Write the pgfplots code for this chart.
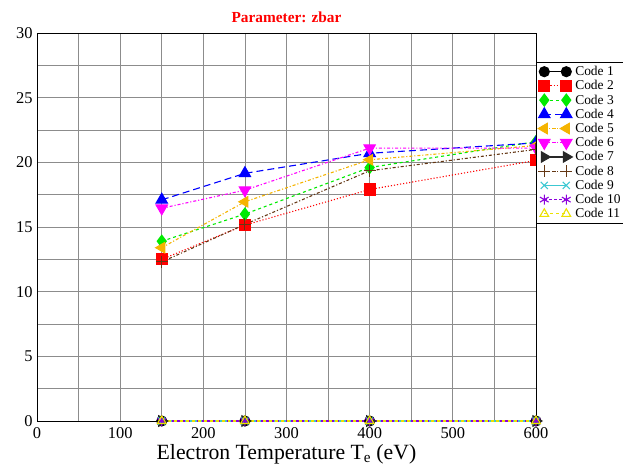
\documentclass[border=0pt]{standalone}
\usepackage{fontspec}
\setmainfont{Liberation Serif}
\usepackage{pgfplots}
\pgfplotsset{compat=1.18}
\definecolor{cgreen}{RGB}{0,235,0}
\definecolor{corange}{RGB}{245,180,0}
\definecolor{cmag}{RGB}{255,0,255}
\definecolor{cbrown}{RGB}{100,55,20}
\definecolor{ccyan}{RGB}{60,200,210}
\definecolor{cpurple}{RGB}{140,0,220}
\definecolor{cyellow}{RGB}{235,225,0}
\definecolor{cdgray}{RGB}{40,40,40}
\begin{document}
\begin{tikzpicture}[x=1bp,y=1bp]
\path[use as bounding box] (-37bp,-47bp) rectangle (586bp,421bp);
\begin{axis}[
  at={(0,0)}, anchor=south west,
  scale only axis, width=499bp, height=388bp,
  xmin=0,xmax=600,ymin=0,ymax=30,
  xtick={0,100,...,600}, minor xtick={50,150,...,550},
  ytick={0,5,...,30}, minor ytick={2.5,7.5,...,27.5},
  grid=both,
  grid style={gray!90, line width=0.7bp},
  minor grid style={gray!90, line width=0.7bp},
  major tick length=0pt, minor tick length=0pt,
  axis line style={black, line width=0.8bp},
  clip=false,
  /pgf/number format/assume math mode=true,
  tick label style={font=\fontsize{16.5}{18}\selectfont},
  xticklabel style={yshift=-3bp},
  yticklabel style={xshift=-1bp},
  xlabel={Electron Temperature T\textsubscript{e} (eV)},
  xlabel style={font=\fontsize{21.8}{23}\selectfont, yshift=1bp},
  title={\textbf{Parameter: zbar}},
  title style={font=\fontsize{15.4}{17}\selectfont, text=red, at={(0.5,1)}, anchor=south, yshift=1bp},
  legend cell align=left,
  legend style={at={(rel axis cs:1,1)}, anchor=north west, yshift=-29bp,
    draw=black, fill=white, line width=0.6bp,
    font=\fontsize{13.5}{14.5}\selectfont, row sep=-0.6bp, inner sep=2bp,
    nodes={inner xsep=3bp}},
  legend image code/.code={\draw[mark repeat=2,mark phase=1,#1] plot coordinates {(6bp,0bp) (17bp,0bp) (28bp,0bp)};},
  every axis plot/.append style={line width=1.1bp, mark size=5bp},
]
\addplot[black, solid, mark=*, mark options={solid}] coordinates {(150,0) (250,0) (400,0) (600,0)};
\addlegendentry{Code 1}
\addplot[red, dotted, mark=square*, mark size=5.5bp, mark options={solid}] coordinates {(150,12.5) (250,15.15) (400,17.9) (600,20.15)};
\addlegendentry{Code 2}
\addplot[cgreen, dashed, mark=diamond*, mark size=6bp, mark options={solid}] coordinates {(150,13.9) (250,16.0) (400,19.6) (600,21.6)};
\addlegendentry{Code 3}
\addplot[blue, dash pattern=on 7bp off 4bp, mark=triangle*, mark size=6.5bp, mark options={solid}] coordinates {(150,17.1) (250,19.15) (400,20.7) (600,21.5)};
\addlegendentry{Code 4}
\addplot[corange, dash dot, mark=triangle*, mark size=6bp, mark options={solid, rotate=90}] coordinates {(150,13.4) (250,16.95) (400,20.2) (600,21.3)};
\addlegendentry{Code 5}
\addplot[cmag, dash dot, mark=triangle*, mark size=6.5bp, mark options={solid, rotate=180}] coordinates {(150,16.45) (250,17.85) (400,21.1) (600,21.1)};
\addlegendentry{Code 6}
\addplot[cdgray, solid, mark=triangle*, mark size=6bp, mark options={solid, rotate=-90}] coordinates {(150,0) (250,0) (400,0) (600,0)};
\addlegendentry{Code 7}
\addplot[cbrown, dash dot, mark=+, mark size=6bp, mark options={solid}] coordinates {(150,12.3) (250,15.2) (400,19.35) (600,21.0)};
\addlegendentry{Code 8}
\addplot[ccyan, solid, mark=x, mark size=5bp, mark options={solid}] coordinates {(150,0) (250,0) (400,0) (600,0)};
\addlegendentry{Code 9}
\addplot[cpurple, densely dashed, mark=asterisk, mark size=5bp, mark options={solid}] coordinates {(150,0) (250,0) (400,0) (600,0)};
\addlegendentry{Code 10}
\addplot[cyellow, dashed, mark=triangle, mark size=5bp, mark options={solid}] coordinates {(150,0) (250,0) (400,0) (600,0)};
\addlegendentry{Code 11}
\end{axis}
\end{tikzpicture}
\end{document}
